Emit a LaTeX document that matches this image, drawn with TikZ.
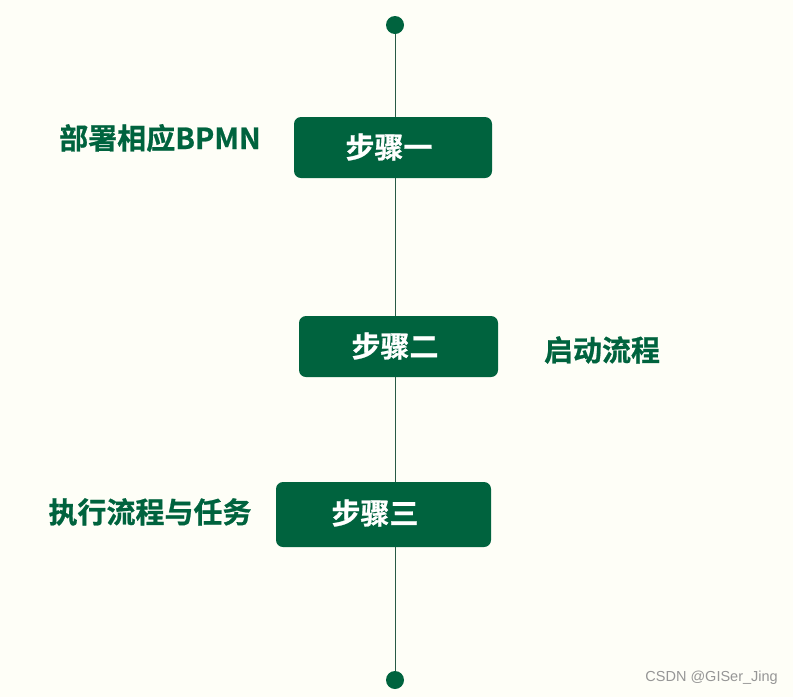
\documentclass[tikz,border=0pt]{standalone}
\usepackage{fontspec}
\newfontfamily\cjkbold[FakeBold=0.8]{Noto Sans CJK SC Bold}
\newfontfamily\markfont{Liberation Sans}
\usepackage{tikz}
\usetikzlibrary{positioning,backgrounds}
\definecolor{figGreen}{RGB}{0,99,62}
\definecolor{figLine}{RGB}{40,90,70}
\definecolor{figCream}{RGB}{254,254,247}
\definecolor{figWhite}{RGB}{255,255,255}
\definecolor{figGray}{RGB}{150,150,150}
\tikzset{
  figdot/.style={circle,fill=figGreen,minimum size=18pt,inner sep=0pt},
  figstepbox/.style={fill=figGreen,rounded corners=7pt,inner sep=0pt},
  figsteptext/.style={font=\cjkbold\fontsize{29}{33}\selectfont,text=figWhite},
  figlabel/.style={font=\cjkbold\fontsize{29}{33}\selectfont,text=figGreen},
  figaxis/.style={draw=figLine,line width=0.8pt},
}

\begin{document}
\begin{tikzpicture}[x=1pt,y=-1pt]
  \useasboundingbox (0,0) rectangle (793,697);

  % End points of the time line.
  \node[figdot] (top) at (395,25) {};
  \node[figdot] (bot) at (395,680) {};

  % Three step boxes, each with its caption.
  \node[figstepbox,minimum width=198pt,minimum height=61pt] (s1) at (393,147.5) {};
  \node[figsteptext] (s1t) at (389,147) {步骤一};
  \node[figstepbox,minimum width=199pt,minimum height=61pt] (s2) at (398.5,346.5) {};
  \node[figsteptext] (s2t) at (395,346) {步骤二};
  \node[figstepbox,minimum width=215pt,minimum height=65pt] (s3) at (383.5,514.5) {};
  \node[figsteptext] (s3t) at (375,513) {步骤三};

  % Side notes.
  \node[figlabel] (n1) at (160,138) {部署相应BPMN};
  \node[figlabel] (n2) at (602,350) {启动流程};
  \node[figlabel] (n3) at (150,512) {执行流程与任务};

  \node[font=\markfont\fontsize{14.5}{16}\selectfont,text=figGray,anchor=east,inner sep=0pt]
    (mark) at (778,678) {CSDN @GISer\_Jing};

  % Background and the line behind the boxes.
  \begin{scope}[on background layer]
    \fill[figCream] (0,0) rectangle (793,697);
    \draw[figaxis] (top) -- (bot);
  \end{scope}
\end{tikzpicture}
\end{document}
